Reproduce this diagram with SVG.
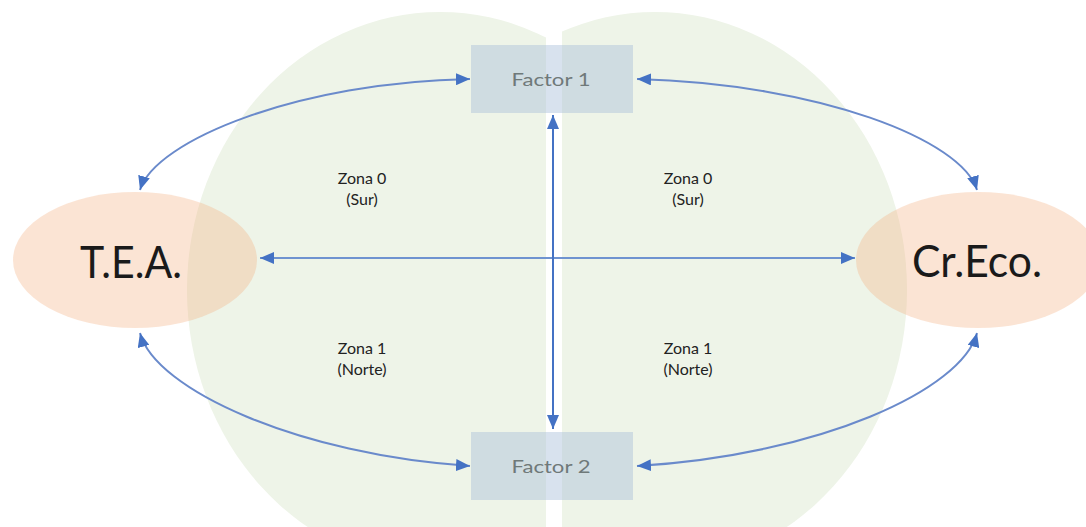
<svg xmlns="http://www.w3.org/2000/svg" width="1086" height="527" viewBox="0 0 1086 527">
  <style>
    .zone { fill: #eef4e8; }
    .ell { fill: #f4b183; fill-opacity: 0.35; }
    .box { fill: #a9bfd9; fill-opacity: 0.45; }
    .big { font-family: "Lato", "Liberation Sans", sans-serif; font-size: 44px; fill: #1a1a1a; }
    .fac { font-family: "Lato", "Liberation Sans", sans-serif; font-size: 18px; fill: #6f7979; text-anchor: middle; }
    .lbl { font-family: "Lato", "Liberation Sans", sans-serif; font-size: 16px; fill: #222; text-anchor: middle; }
    .curve { fill: none; stroke: #6a8acb; stroke-width: 2; }
    .straight { fill: none; stroke: #6f93d0; stroke-width: 2; }
    .vert { fill: none; stroke: #4472c4; stroke-width: 2; }
  </style>
  <defs>
    <clipPath id="clipL"><rect x="0" y="0" width="546" height="527"/></clipPath>
    <clipPath id="clipR"><rect x="562" y="0" width="524" height="527"/></clipPath>
    <marker id="ah" viewBox="0 0 14 12" refX="14" refY="6" markerWidth="14" markerHeight="12" markerUnits="userSpaceOnUse" orient="auto-start-reverse">
      <path d="M0,0 L14,6 L0,12 z" fill="#4472c4"/>
    </marker>
  </defs>

  <g id="zones">
    <ellipse class="zone" cx="440" cy="290" rx="253" ry="278" clip-path="url(#clipL)"/>
    <ellipse class="zone" cx="655" cy="290" rx="252" ry="278" clip-path="url(#clipR)"/>
  </g>

  <g id="node-tea">
    <ellipse class="ell" cx="135" cy="260" rx="122" ry="68"/>
    <text class="big" x="80" y="278" textLength="102" lengthAdjust="spacingAndGlyphs">T.E.A.</text>
  </g>

  <g id="node-creco">
    <ellipse class="ell" cx="978" cy="260" rx="122" ry="68"/>
    <text class="big" x="912" y="277" textLength="130" lengthAdjust="spacingAndGlyphs">Cr.Eco.</text>
  </g>

  <g id="node-factor1">
    <rect class="box" x="471" y="45" width="162" height="68"/>
    <text class="fac" x="551" y="86" textLength="79" lengthAdjust="spacingAndGlyphs">Factor 1</text>
  </g>

  <g id="node-factor2">
    <rect class="box" x="471" y="432" width="162" height="68"/>
    <text class="fac" x="551" y="473" textLength="79" lengthAdjust="spacingAndGlyphs">Factor 2</text>
  </g>

  <g id="labels">
    <text class="lbl" x="362" y="184">Zona 0</text>
    <text class="lbl" x="362" y="205">(Sur)</text>
    <text class="lbl" x="362" y="354">Zona 1</text>
    <text class="lbl" x="362" y="375">(Norte)</text>
    <text class="lbl" x="688" y="184">Zona 0</text>
    <text class="lbl" x="688" y="205">(Sur)</text>
    <text class="lbl" x="688" y="354">Zona 1</text>
    <text class="lbl" x="688" y="375">(Norte)</text>
  </g>

  <g id="connectors">
    <path class="curve" d="M140,190 C155,140 300,82 470,79" marker-start="url(#ah)" marker-end="url(#ah)"/>
    <path class="curve" d="M977,190 C962,140 820,84 637,79" marker-start="url(#ah)" marker-end="url(#ah)"/>
    <path class="curve" d="M140,333 C155,390 300,455 470,466" marker-start="url(#ah)" marker-end="url(#ah)"/>
    <path class="curve" d="M977,333 C962,390 820,455 637,466" marker-start="url(#ah)" marker-end="url(#ah)"/>
    <path class="straight" d="M260,258 L855,258" marker-start="url(#ah)" marker-end="url(#ah)"/>
    <path class="vert" d="M553,115 L553,429" marker-start="url(#ah)" marker-end="url(#ah)"/>
  </g>
</svg>
